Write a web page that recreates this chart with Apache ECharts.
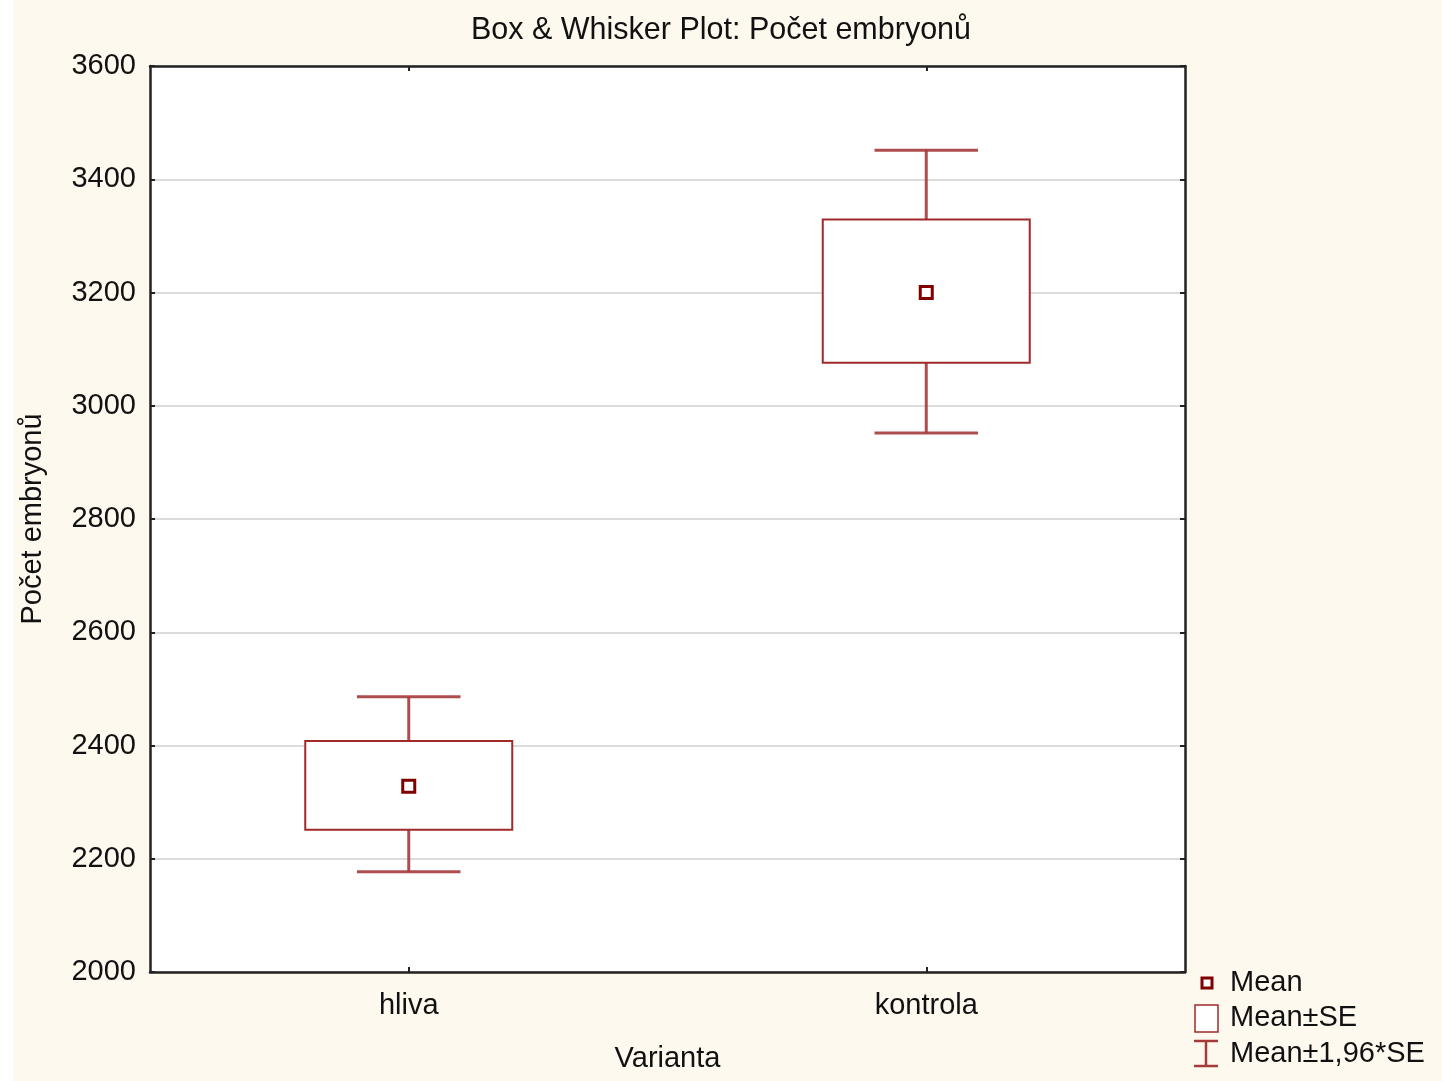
<!DOCTYPE html>
<html>
<head>
<meta charset="utf-8">
<script src="https://cdn.jsdelivr.net/npm/echarts@6/dist/echarts.min.js"></script>
<style>
html,body{margin:0;padding:0;background:#fff;}
#chart{width:1442px;height:1081px;}
</style>
</head>
<body>
<div id="chart"></div>
<script>
// ---- data ----
const categories = ['hliva', 'kontrola'];
const meanValues = [2328, 3200];
const seLow = [2251, 3076];
const seHigh = [2408, 3329];
const ciLow = [2177, 2952];
const ciHigh = [2486, 3451];
const yTicks = [2000, 2200, 2400, 2600, 2800, 3000, 3200, 3400, 3600];
const legendLabels = ['Mean', 'Mean±SE', 'Mean±1,96*SE'];

const FONT = '"Liberation Sans", Arial, sans-serif';
const FS = 29;
const BOX_COLOR = '#a02a2a';
const WHISKER_COLOR = '#a53a3a';
const MEAN_COLOR = '#800000';

const chart = echarts.init(document.getElementById('chart'), null, {renderer: 'canvas'});

const whiskerData = categories.map((c, i) => [i, ciLow[i], seLow[i], seHigh[i], ciHigh[i]]);
const boxData = categories.map((c, i) => [i, seLow[i], seHigh[i]]);
const meanData = categories.map((c, i) => [i, meanValues[i]]);

const option = {
  backgroundColor: '#fef9ef',
  animation: false,
  title: {
    text: 'Box & Whisker Plot: Počet embryonů',
    left: 'center',
    top: 10,
    textStyle: {fontFamily: FONT, fontSize: 30.5, fontWeight: 'normal', color: '#111'}
  },
  grid: {left: 150, right: 257, top: 66, bottom: 109, show: true, backgroundColor: '#fff', borderWidth: 0},
  xAxis: [{
    type: 'category',
    data: categories,
    boundaryGap: true,
    position: 'bottom',
    name: 'Varianta',
    nameLocation: 'middle',
    nameGap: 72,
    nameTextStyle: {fontFamily: FONT, fontSize: FS, color: '#111'},
    axisLine: {show: true, lineStyle: {color: '#222', width: 2.5}},
    axisTick: {show: true, inside: true, alignWithLabel: true, length: 5, lineStyle: {color: '#222', width: 2}},
    axisLabel: {fontFamily: FONT, fontSize: FS, color: '#111', margin: 19},
    splitLine: {show: false}
  }, {
    type: 'category',
    data: categories,
    boundaryGap: true,
    position: 'top',
    axisLine: {show: true, lineStyle: {color: '#222', width: 2.5}},
    axisTick: {show: true, inside: true, alignWithLabel: true, length: 5, lineStyle: {color: '#222', width: 2}},
    axisLabel: {show: false},
    splitLine: {show: false}
  }],
  yAxis: [{
    type: 'value',
    min: yTicks[0],
    max: yTicks[yTicks.length - 1],
    interval: 200,
    position: 'left',
    name: 'Počet embryonů',
    nameLocation: 'middle',
    nameGap: 103,
    nameTextStyle: {fontFamily: FONT, fontSize: FS, color: '#111'},
    axisLine: {show: true, lineStyle: {color: '#222', width: 2.5}},
    axisTick: {show: true, inside: true, length: 5, lineStyle: {color: '#222', width: 2}},
    axisLabel: {fontFamily: FONT, fontSize: FS, color: '#111', margin: 14, formatter: v => String(v)},
    splitLine: {show: true, lineStyle: {color: '#dcdcdc', width: 2}}
  }, {
    type: 'value',
    min: yTicks[0],
    max: yTicks[yTicks.length - 1],
    interval: 200,
    position: 'right',
    axisLine: {show: true, lineStyle: {color: '#222', width: 2.5}},
    axisTick: {show: true, inside: true, length: 5, lineStyle: {color: '#222', width: 2}},
    axisLabel: {show: false},
    splitLine: {show: false}
  }],
  series: [{
    name: 'Mean±1,96*SE',
    type: 'custom',
    xAxisIndex: 0, yAxisIndex: 0,
    z: 2,
    data: whiskerData,
    renderItem: function (params, api) {
      const x = api.value(0);
      const pLow = api.coord([x, api.value(1)]);
      const pSeLow = api.coord([x, api.value(2)]);
      const pSeHigh = api.coord([x, api.value(3)]);
      const pHigh = api.coord([x, api.value(4)]);
      const band = api.size([1, 0])[0];
      const capHalf = band * 0.1;
      const style = {stroke: WHISKER_COLOR, lineWidth: 3, opacity: 0.9};
      return {
        type: 'group',
        children: [
          {type: 'line', shape: {x1: pLow[0], y1: pLow[1], x2: pSeLow[0], y2: pSeLow[1]}, style: style},
          {type: 'line', shape: {x1: pSeHigh[0], y1: pSeHigh[1], x2: pHigh[0], y2: pHigh[1]}, style: style},
          {type: 'line', shape: {x1: pLow[0] - capHalf, y1: pLow[1], x2: pLow[0] + capHalf, y2: pLow[1]}, style: style},
          {type: 'line', shape: {x1: pHigh[0] - capHalf, y1: pHigh[1], x2: pHigh[0] + capHalf, y2: pHigh[1]}, style: style}
        ]
      };
    }
  }, {
    name: 'Mean±SE',
    type: 'custom',
    xAxisIndex: 0, yAxisIndex: 0,
    z: 3,
    data: boxData,
    renderItem: function (params, api) {
      const x = api.value(0);
      const pLow = api.coord([x, api.value(1)]);
      const pHigh = api.coord([x, api.value(2)]);
      const band = api.size([1, 0])[0];
      const w = band * 0.4;
      return {
        type: 'rect',
        shape: {x: pLow[0] - w / 2, y: pHigh[1], width: w, height: pLow[1] - pHigh[1]},
        style: {fill: '#fff', stroke: BOX_COLOR, lineWidth: 2}
      };
    }
  }, {
    name: 'Mean',
    type: 'scatter',
    xAxisIndex: 0, yAxisIndex: 0,
    z: 4,
    data: meanData,
    symbol: 'rect',
    symbolSize: 12,
    itemStyle: {color: '#fff', borderColor: MEAN_COLOR, borderWidth: 3, opacity: 1}
  }],
  graphic: [
    {type: 'rect', z: -100, shape: {x: 0, y: 0, width: 13, height: 1081}, style: {fill: '#fff'}},
    // legend icons
    {type: 'rect', shape: {x: 1202, y: 978, width: 10, height: 10}, style: {fill: '#fff', stroke: MEAN_COLOR, lineWidth: 3}},
    {type: 'rect', shape: {x: 1195, y: 1005, width: 23, height: 27}, style: {fill: '#fff', stroke: BOX_COLOR, lineWidth: 1.5}},
    {type: 'line', shape: {x1: 1194, y1: 1041, x2: 1218, y2: 1041}, style: {stroke: WHISKER_COLOR, lineWidth: 2.5}},
    {type: 'line', shape: {x1: 1206, y1: 1041, x2: 1206, y2: 1066}, style: {stroke: WHISKER_COLOR, lineWidth: 2.5}},
    {type: 'line', shape: {x1: 1194, y1: 1066, x2: 1218, y2: 1066}, style: {stroke: WHISKER_COLOR, lineWidth: 2.5}},
    // legend labels
    {type: 'text', x: 1230, y: 983, style: {text: legendLabels[0], font: FS + 'px ' + FONT, fill: '#111', textVerticalAlign: 'middle', verticalAlign: 'middle'}},
    {type: 'text', x: 1230, y: 1018, style: {text: legendLabels[1], font: FS + 'px ' + FONT, fill: '#111', textVerticalAlign: 'middle', verticalAlign: 'middle'}},
    {type: 'text', x: 1230, y: 1054, style: {text: legendLabels[2], font: FS + 'px ' + FONT, fill: '#111', textVerticalAlign: 'middle', verticalAlign: 'middle'}}
  ]
};
chart.setOption(option);
</script>
</body>
</html>
